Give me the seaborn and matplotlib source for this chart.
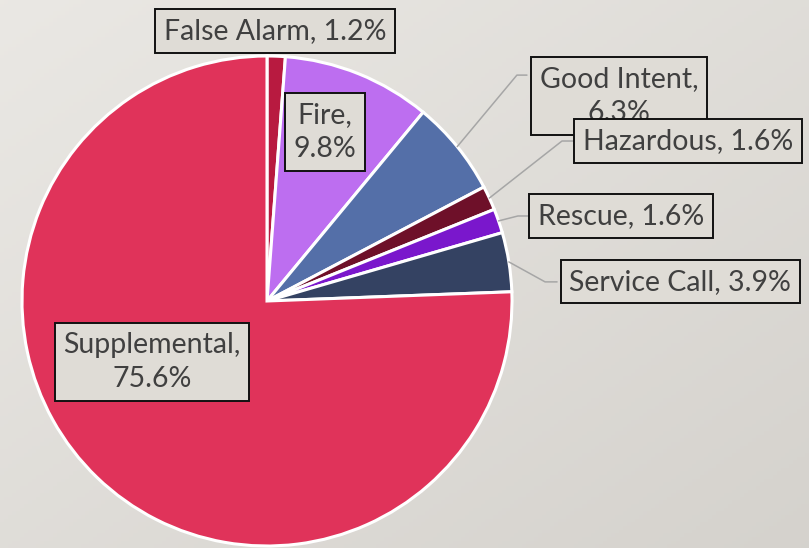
import matplotlib
matplotlib.use("Agg")
import matplotlib.pyplot as plt
import seaborn as sns
import numpy as np

sns.set_style("white")
plt.rcParams['font.family'] = ['Lato', 'DejaVu Sans']

# =-= Data =-= #
categories = ["False Alarm", "Fire", "Good Intent", "Hazardous", "Rescue", "Service Call", "Supplemental"]
shares = [1.2, 9.8, 6.3, 1.6, 1.6, 3.9, 75.6]
colors = ["#B81A40", "#BD6EF0", "#546FA8", "#6E1029", "#7A17CC", "#344262", "#E0335A"]

# label layout (pie radius = 1)
label_pos = {
    "False Alarm": (0.033, 1.102),
    "Fire": (0.237, 0.690),
    "Good Intent": (1.437, 0.837),
    "Hazardous": (1.718, 0.653),
    "Rescue": (1.445, 0.347),
    "Service Call": (1.686, 0.078),
    "Supplemental": (-0.469, -0.249),
}
two_line = {"Fire", "Good Intent", "Supplemental"}
# leader lines: elbow point, box left edge
leaders = {
    "Good Intent": ((1.020, 0.922), 1.061),
    "Hazardous": ((1.204, 0.653), 1.249),
    "Rescue": ((1.024, 0.347), 1.069),
    "Service Call": ((1.135, 0.078), 1.184),
}

W, H = 809, 548
fig = plt.figure(figsize=(W / 100, H / 100), dpi=100)

# gradient background
bg = fig.add_axes([0, 0, 1, 1])
gx, gy = np.meshgrid(np.linspace(0, 1, 200), np.linspace(0, 1, 150))
t = (gx + gy) / 2
top = np.array([0.918, 0.910, 0.894])
bot = np.array([0.835, 0.824, 0.804])
img = top[None, None, :] * (1 - t[..., None]) + bot[None, None, :] * t[..., None]
bg.imshow(img, aspect="auto", extent=[0, 1, 0, 1], origin="upper")
bg.axis("off")

R = 245
cx, cy = 267, 301
ax = fig.add_axes([(cx - R) / W, (H - cy - R) / H, 2 * R / W, 2 * R / H])
wedges, _ = ax.pie(shares, colors=colors, startangle=90, counterclock=False,
                   radius=1, wedgeprops=dict(edgecolor="white", linewidth=2.2))
ax.set_xlim(-1, 1)
ax.set_ylim(-1, 1)
ax.axis("off")

# leader lines from wedge middle
cum = np.cumsum([0] + shares)
for i, cat in enumerate(categories):
    if cat not in leaders:
        continue
    mid = (cum[i] + cum[i + 1]) / 2
    ang = np.deg2rad(90 - mid / 100 * 360)
    p0 = (np.cos(ang), np.sin(ang))
    (ex, ey), bx = leaders[cat]
    ax.plot([p0[0], ex, bx], [p0[1], ey, ey], color="#A6A6A6", lw=1.1,
            clip_on=False, zorder=1)

for i, cat in enumerate(categories):
    sep = "\n" if cat in two_line else " "
    txt = f"{cat},{sep}{shares[i]:.1f}%"
    x, y = label_pos[cat]
    ax.text(x, y, txt, ha="center", va="center", fontsize=20.5, color="#404040",
            linespacing=1.4, zorder=5 + i,
            bbox=dict(boxstyle="square,pad=0.3", fc="#DFDCD6", ec="#111111", lw=1.4))

fig.savefig("out.png", dpi=100)
